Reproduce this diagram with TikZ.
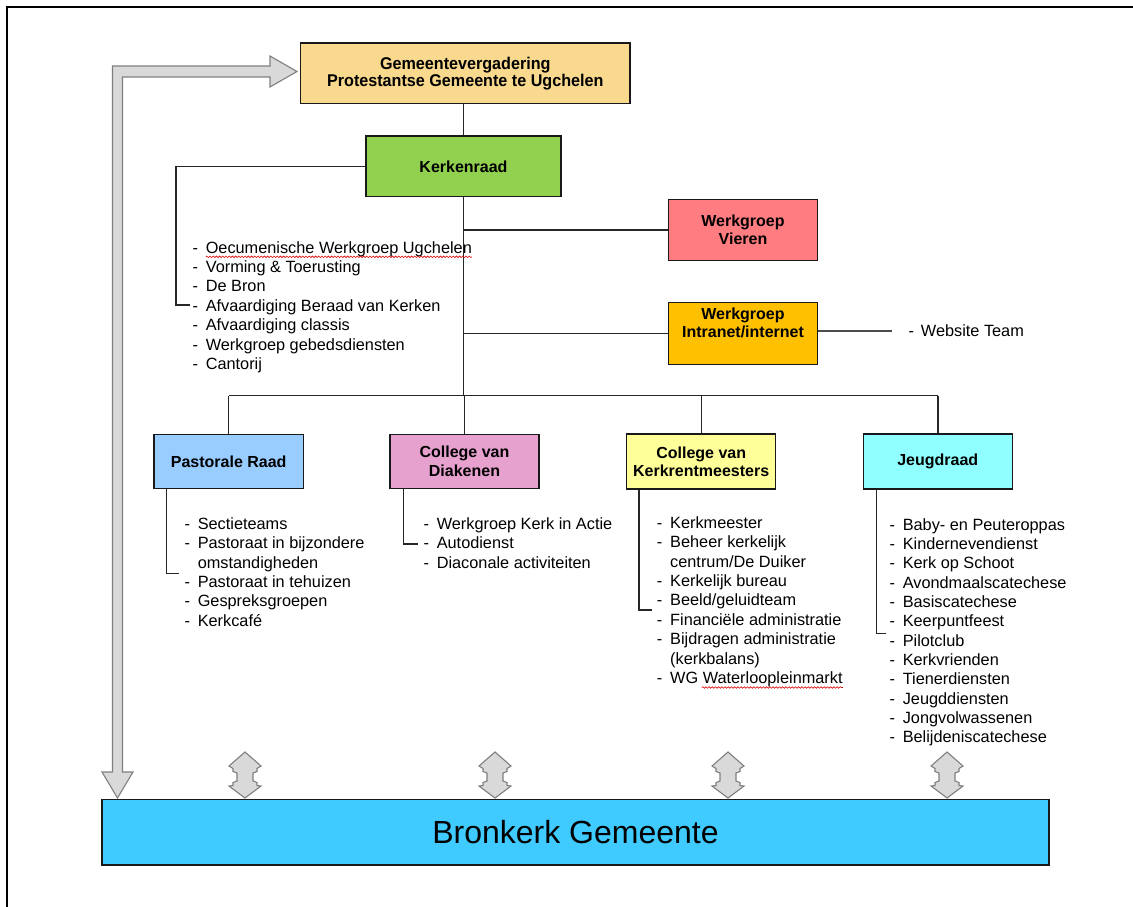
\documentclass[tikz,border=0pt]{standalone}
\usepackage{fontspec}
\setmainfont{Liberation Sans}
\newfontfamily\gemfont[FakeStretch=0.95]{Liberation Sans}
\usetikzlibrary{calc,decorations.pathmorphing}
\definecolor{gemC}{HTML}{F9D98E}
\definecolor{kerC}{HTML}{92D050}
\definecolor{vieC}{HTML}{FF7C80}
\definecolor{intC}{HTML}{FFC000}
\definecolor{pasC}{HTML}{99CCFF}
\definecolor{diaC}{HTML}{E6A1CF}
\definecolor{kkmC}{HTML}{FFFF99}
\definecolor{jeuC}{HTML}{8FFFFF}
\definecolor{broC}{HTML}{3FCBFF}
\definecolor{arrF}{HTML}{D9D9D9}
\definecolor{arrD}{HTML}{7F7F7F}
\newcommand\D{\makebox[13.3pt][l]{-}}
\newcommand\C{\hspace*{13.3pt}}
\newcommand\udarr[1]{\begin{scope}[shift={(#1,0)}]
\draw[garrow] (0,752) -- (16,766) -- (12,768.5) -- (12,771.5) -- (8,773) -- (8,781) -- (12,782.5) -- (12,785.5) -- (16,786) -- (0,798) -- (-16,786) -- (-12,785.5) -- (-12,782.5) -- (-8,781) -- (-8,773) -- (-12,771.5) -- (-12,768.5) -- (-16,766) -- cycle;
\end{scope}}
\begin{document}
\begin{tikzpicture}[x=1pt,y=-1pt,
  box/.style={draw=black!90, line width=1.5pt, inner sep=0pt, align=center,
    font=\bfseries\fontsize{16}{18.4}\selectfont},
  boxtext/.style={inner sep=0pt, align=center, font=\bfseries\fontsize{16}{18.4}\selectfont},
  item/.style={anchor=base west, inner sep=0pt, font=\fontsize{16.3}{19}\selectfont},
  conn/.style={draw=black!85, line width=1.4pt},
  garrow/.style={fill=arrF, draw=arrD, line width=1.1pt, line join=miter},
  spell/.style={draw=red!85!black, line width=0.6pt, decorate,
    decoration={snake, amplitude=0.8pt, segment length=3.2pt}}]
\useasboundingbox (0,0) rectangle (1133,907);
% frame
\draw[line width=2.8pt] (7,907) -- (7,7) -- (1133,7);

% boxes
\node[box, fill=gemC, minimum width=329.5pt, minimum height=60.5pt,
  font=\gemfont\bfseries\fontsize{17}{17.3}\selectfont] (gem) at (465.3,73.3)
  {Gemeentevergadering\\Protestantse Gemeente te Ugchelen};
\node[box, fill=kerC, minimum width=195pt, minimum height=60.7pt] (ker) at (463.5,166.3) {Kerkenraad};
\node[box, fill=vieC, minimum width=149.4pt, minimum height=61.4pt] (vie) at (743,230) {Werkgroep\\Vieren};
\node[box, fill=intC, minimum width=149.4pt, minimum height=62pt] (int) at (743,333.3) {};
\node[boxtext, anchor=north] (intT) at (743,307.6) {Werkgroep\\Intranet/internet};
\node[box, fill=pasC, minimum width=149.3pt, minimum height=54pt] (pas) at (228.7,461.3) {Pastorale Raad};
\node[box, fill=diaC, minimum width=149pt, minimum height=54pt] (dia) at (464.5,461.3) {College van\\Diakenen};
\node[box, fill=kkmC, minimum width=149pt, minimum height=54.7pt] (kkm) at (701.2,461.5) {College van\\Kerkrentmeesters};
\node[box, fill=jeuC, minimum width=149pt, minimum height=54.7pt] (jeu) at (937.8,461.5) {Jeugdraad};
\node[box, fill=broC, line width=1.2pt, minimum width=947pt, minimum height=65.7pt,
  font=\fontsize{32}{38}\selectfont] (bro) at (575.5,832.2) {Bronkerk Gemeente};

% connectors
\coordinate (busL) at (229,395.5);
\coordinate (busR) at (937.5,395.5);
\draw[conn] (ker.north |- gem.south) -- (ker.north);
\draw[conn] (ker.south) -- (ker.south |- busL);
\draw[conn] (busL) -- (busR);
\draw[conn] (ker.south |- vie.west) -- (vie.west);
\draw[conn] (ker.south |- int.west) -- (int.west);
\draw[conn] (pas.north) -- (pas.north |- busL);
\draw[conn] (dia.north) -- (dia.north |- busL);
\draw[conn] (kkm.north) -- (kkm.north |- busL);
\draw[conn] (jeu.north) -- (jeu.north |- busL);
\coordinate (webE) at (892.3,331);
\draw[conn, draw=black!70] (int.east |- webE) -- (webE);

% Kerkenraad side list
\coordinate (kc) at (176,305);
\coordinate (kt) at (190,305);
\draw[conn] (ker.west) -| (kc) -- (kt);
\foreach \t [count=\i from 0] in {{\D Oecumenische Werkgroep Ugchelen},{\D Vorming \& Toerusting},{\D De Bron},
  {\D Afvaardiging Beraad van Kerken},{\D Afvaardiging classis},{\D Werkgroep gebedsdiensten},{\D Cantorij}}
  \node[item, name=kl\i] at (192.3,253+19.4*\i) {\t};
\draw[spell] ($(kl0.base west)+(13.5,3.8)$) -- ($(kl0.base east)+(0,3.8)$);

% website
\node[item] (web) at (908.3,336.7) {\makebox[12.4pt][l]{-}Website Team};

% Pastorale list
\coordinate (pc) at (166.7,573.3);
\coordinate (pt) at (179.3,573.3);
\draw[conn] (pas.south -| pc) -- (pc) -- (pt);
\foreach \t [count=\i from 0] in {{\D Sectieteams},{\D Pastoraat in bijzondere},{\C omstandigheden},
  {\D Pastoraat in tehuizen},{\D Gespreksgroepen},{\D Kerkcafé}}
  \node[item, name=pl\i] at (184.3,529.3+19.4*\i) {\t};

% Diakenen list
\coordinate (dc) at (403.3,544);
\coordinate (dt) at (418,544);
\draw[conn] (dia.south -| dc) -- (dc) -- (dt);
\foreach \t [count=\i from 0] in {{\D Werkgroep Kerk in Actie},{\D Autodienst},{\D Diaconale activiteiten}}
  \node[item, name=dl\i] at (423.3,529.3+19.4*\i) {\t};

% Kerkrentmeesters list
\coordinate (mc) at (639,610);
\coordinate (mt) at (652.3,610);
\draw[conn] (kkm.south -| mc) -- (mc) -- (mt);
\foreach \t [count=\i from 0] in {{\D Kerkmeester},{\D Beheer kerkelijk},{\C centrum/De Duiker},{\D Kerkelijk bureau},
  {\D Beeld/geluidteam},{\D Financiële administratie},{\D Bijdragen administratie},{\C (kerkbalans)},{\D WG Waterloopleinmarkt}}
  \node[item, name=ml\i] at (656.7,528.3+19.4*\i) {\t};
\draw[spell] ($(ml8.base west)+(45,4)$) -- ($(ml8.base east)+(0,4)$);

% Jeugdraad list
\coordinate (jc) at (876.7,633.3);
\coordinate (jt) at (886,633.3);
\draw[conn] (jeu.south -| jc) -- (jc) -- (jt);
\foreach \t [count=\i from 0] in {{\D Baby- en Peuteroppas},{\D Kindernevendienst},{\D Kerk op Schoot},{\D Avondmaalscatechese},
  {\D Basiscatechese},{\D Keerpuntfeest},{\D Pilotclub},{\D Kerkvrienden},{\D Tienerdiensten},{\D Jeugddiensten},
  {\D Jongvolwassenen},{\D Belijdeniscatechese}}
  \node[item, name=jl\i] at (889.3,530+19.34*\i) {\t};

% big L-shaped arrow
\draw[garrow] (112.5,772) -- (112.5,66) -- (270,66) -- (270,56) -- (297,71.5) -- (270,87) -- (270,77)
  -- (122.5,77) -- (122.5,772) -- (133,772) -- (117.5,798) -- (102,772) -- cycle;

% up-down arrows
\udarr{245}
\udarr{495}
\udarr{728}
\udarr{947}
\end{tikzpicture}
\end{document}
